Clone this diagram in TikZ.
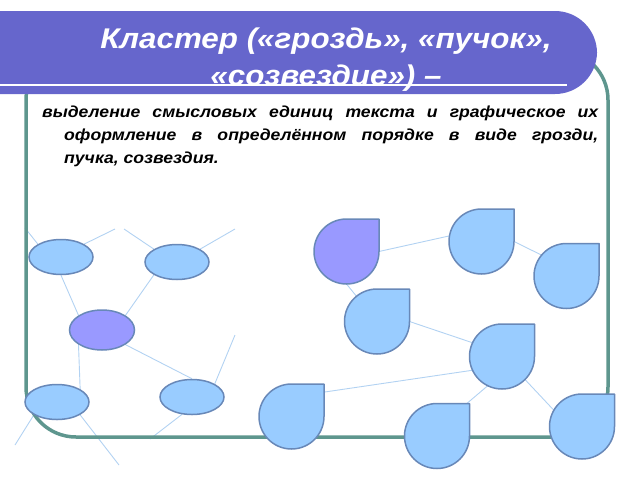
\documentclass[tikz,border=0pt]{standalone}
\usepackage{fontspec}
\setmainfont{Liberation Sans}
\newfontfamily\widefont[FakeStretch=1.1]{Liberation Sans}
\usetikzlibrary{shapes.geometric,backgrounds}
\definecolor{banner}{RGB}{102,102,204}
\definecolor{frameteal}{RGB}{94,150,142}
\definecolor{cellfill}{RGB}{153,204,255}
\definecolor{cellcore}{RGB}{153,153,255}
\definecolor{celledge}{RGB}{104,136,184}
\definecolor{linkblue}{RGB}{178,210,242}
\tikzset{cell/.style={ellipse,draw=celledge,fill=cellfill,line width=1.5pt,minimum width=64pt,minimum height=35pt,inner sep=0pt}}
\tikzset{drop/.style={circle,minimum size=65pt,inner sep=0pt,outer sep=0pt}}
\tikzset{dropshape/.style={draw=celledge,line width=1.5pt,line join=round}}
\tikzset{link/.style={draw=linkblue,line width=0.9pt}}
\tikzset{frame/.style={draw=frameteal,line width=3.5pt,rounded corners=50pt}}

\begin{document}
\begin{tikzpicture}[x=1pt,y=-1pt]
\useasboundingbox (0,0) rectangle (640,480);
\draw[frame] (26,50) rectangle (608,437);
\fill[banner,rounded corners=42pt] (-60,11) rectangle (597,94);
\node[anchor=base,align=center,text=white,font=\widefont\fontsize{28.5}{37}\selectfont\bfseries\itshape] (title) at (326,85.5) {Кластер («гроздь», «пучок»,\\«созвездие») –};
\draw[white,line width=2pt] (-5,85) -- (567,85);
\node[anchor=base west,inner sep=0pt,font=\widefont\fontsize{16}{23}\selectfont\bfseries\itshape] (def) at (42,117) {\parbox[t]{556pt}{\hangindent=22pt\hangafter=1 выделение смысловых единиц текста и графическое их\linebreak оформление в определённом порядке в виде грозди,\linebreak пучка, созвездия.}};

% left cluster
\node[cell] (E1) at (61,257) {};
\node[cell] (E2) at (177,262) {};
\node[cell,fill=cellcore,minimum width=65pt,minimum height=40pt] (E0) at (102,330) {};
\node[cell] (E3) at (57,402) {};
\node[cell] (E4) at (192,397) {};
\coordinate (e1a) at (25,228);
\coordinate (e1b) at (115,229);
\coordinate (e2a) at (124,229);
\coordinate (e2b) at (235,229);
\coordinate (e4a) at (235,335);
\coordinate (e4b) at (150,439);
\coordinate (e3a) at (15,445);
\coordinate (e3b) at (119,465);

% right cluster
\node[drop] (D0) at (346.5,251.5) {};
\node[drop] (D1) at (481.5,241.5) {};
\node[drop] (D2) at (566.5,276) {};
\node[drop] (D3) at (377,321.5) {};
\node[drop] (D4) at (502,356.5) {};
\node[drop] (D5) at (291.5,416.5) {};
\node[drop] (D6) at (437,436) {};
\node[drop] (D7) at (582,426.5) {};

\begin{scope}[on background layer]
\draw[link] (E1.south) -- (E0.north west);
\draw[link] (E2.south west) -- (E0.north east);
\draw[link] (E0.south west) -- (E3.north east);
\draw[link] (E0.south east) -- (E4.north);
\draw[link] (E1.north west) -- (e1a);
\draw[link] (E1.north east) -- (e1b);
\draw[link] (E2.north west) -- (e2a);
\draw[link] (E2.north east) -- (e2b);
\draw[link] (E4.30) -- (e4a);
\draw[link] (E4.-120) -- (e4b);
\draw[link] (E3.south west) -- (e3a);
\draw[link] (E3.south east) -- (e3b);
\draw[link] (D0.east) -- (D1.170);
\draw[link] (D1.east) -- (D2.140);
\draw[link] (D0.south) -- (D3.center);
\draw[link] (D3.east) -- (D4.155);
\draw[link] (D4.205) -- (D5.north east);
\draw[link] (D4.244) -- (D6.50);
\draw[link] (D4.south east) -- (D7.150);
\end{scope}

\foreach \d/\c in {D0/cellcore,D1/cellfill,D2/cellfill,D3/cellfill,D4/cellfill,D5/cellfill,D6/cellfill,D7/cellfill}
  \filldraw[dropshape,fill=\c] (\d.north) -| (\d.east) arc[start angle=0,end angle=-270,radius=32.5pt] -- cycle;
\end{tikzpicture}
\end{document}
